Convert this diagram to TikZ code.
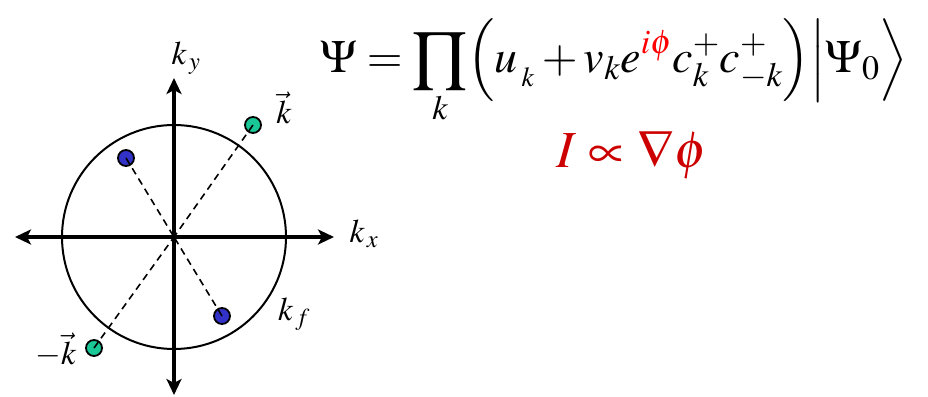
\documentclass[tikz,border=0pt]{standalone}
\usepackage{amsmath}
\usepackage{mathptmx}
\usepackage{tikz}
\usetikzlibrary{positioning, arrows.meta}

\definecolor{dotgreen}{RGB}{25,200,150}
\definecolor{dotblue}{RGB}{50,50,200}
\definecolor{formred}{RGB}{204,0,0}

\begin{document}
\begin{tikzpicture}[x=1pt, y=-1pt]

		\tikzstyle{axis} = [line width=3.2pt, {Stealth[length=16pt, width=15pt, inset=4pt]}-{Stealth[length=16pt, width=15pt, inset=4pt]}]
		\tikzstyle{ring} = [line width=2pt]
		\tikzstyle{pair} = [dashed, line width=1.6pt, dash pattern=on 7pt off 5pt]
		\tikzstyle{dot} = [circle, draw, line width=1.8pt, minimum size=16pt, inner sep=0pt]
		\tikzstyle{lbl} = [font=\fontsize{33}{36}\selectfont, inner sep=0pt]

		\useasboundingbox (0,0) rectangle (928,396);

		% Define nodes
		\coordinate (origin) at (174,237);
		\coordinate (left) at (15,237);
		\coordinate (right) at (334,237);
		\coordinate (top) at (174,78);
		\coordinate (bottom) at (174,395);
		\node[dot, fill=dotgreen] (kplus) at (253,125) {};
		\node[dot, fill=dotgreen] (kminus) at (94,348) {};
		\node[dot, fill=dotblue] (pup) at (126,158) {};
		\node[dot, fill=dotblue] (pdown) at (222,316) {};

		\node[lbl] (ky) at (186,58) {$k_{\,y}$};
		\node[lbl] (kx) at (364,234) {$k_{\,x}$};
		\node[lbl] (kvec) at (284,108) {$\vec{k}$};
		\node[lbl] (kf) at (294,314) {$k_{\,f}$};
		\node[lbl] (kmvec) at (56,350) {$-\vec{k}$};

		\node[inner sep=0pt, font=\fontsize{46}{50}\selectfont] (state) at (614,72)
			{$\Psi = \displaystyle\prod_{k}\Bigl( u_{\,_{k}} + v_{k} e^{\textcolor{red}{i\phi}} c_{k}^{+} c_{-k}^{+} \Bigr)\Bigl| \Psi_{0} \Bigr\rangle$};
		\node[inner sep=0pt, text=formred, font=\fontsize{52}{56}\selectfont] (current) at (632,155)
			{$I \propto \nabla\phi$};

		% Draw shapes
		\draw[ring] (origin) circle (112);
		\draw[axis] (left) -- (right);
		\draw[axis] (bottom) -- (top);
		\draw[pair] (kplus.center) -- (origin);
		\draw[pair] (kminus.center) -- (origin);
		\draw[pair] (pup.center) -- (origin);
		\draw[pair] (pdown.center) -- (origin);

	\end{tikzpicture}
\end{document}
